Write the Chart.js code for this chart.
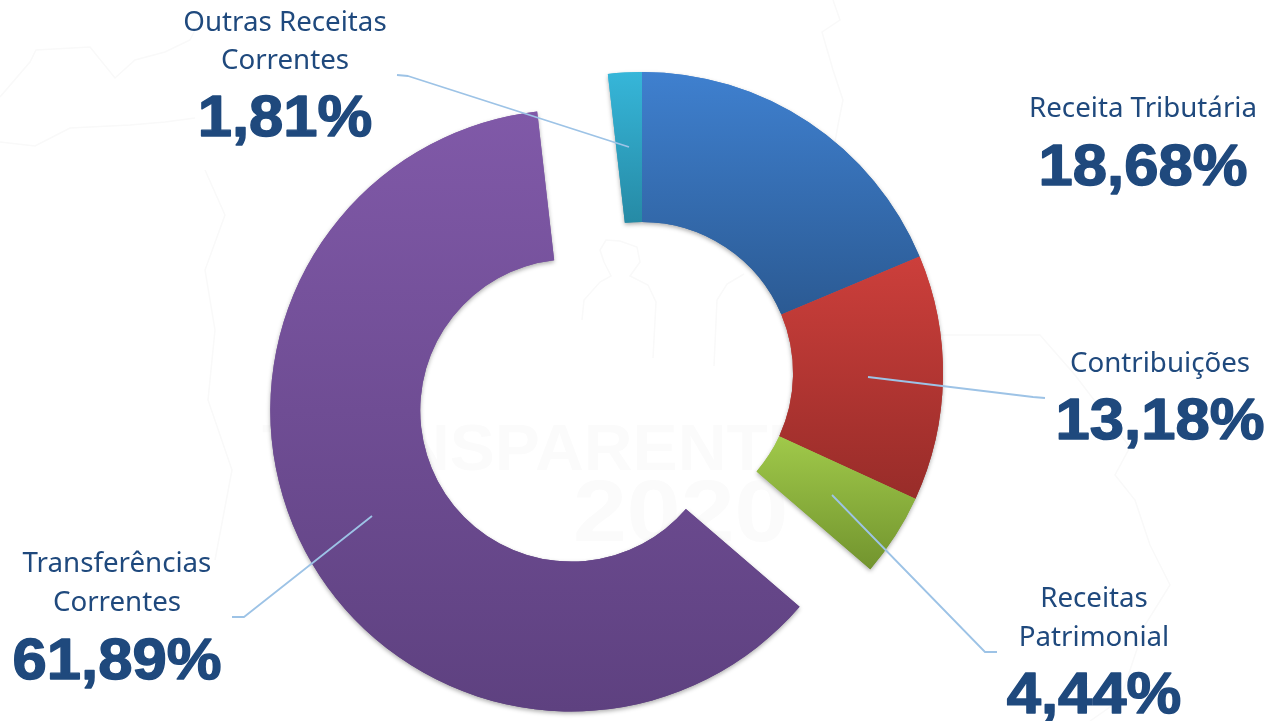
<!DOCTYPE html>
<html lang="pt">
<head>
<meta charset="utf-8">
<title>Receitas</title>
<style>
html,body{margin:0;padding:0;background:#fff;overflow:hidden}
#wrap{position:absolute;left:0;top:0;width:1268px;height:721px}
canvas{display:block}
</style>
<script src="https://cdn.jsdelivr.net/npm/chart.js@4"></script>
</head>
<body>
<div id="wrap"><canvas id="c" width="1268" height="721"></canvas></div>
<script>
const categories = ['Receita Tributária','Contribuições','Receitas Patrimonial','Transferências Correntes','Outras Receitas Correntes'];
const values = [18.68,13.18,4.44,61.89,1.81];
const percentLabels = ['18,68%','13,18%','4,44%','61,89%','1,81%'];

const gradientTop = ['#3F80CF','#CC3F3B','#A0C94A','#8059A8','#36B6D9'];
const gradientBottom = ['#2B5A93','#982C29','#72942E','#5E4180','#268AA5'];
const explode = [0,0,0,80,0];
const CUT = 0.502;

const callouts = [
  {lines:['Receita Tributária'],lineY:[117],x:1143,pctY:185,leader:null},
  {lines:['Contribuições'],lineY:[372],x:1160,pctY:439,leader:[[868,377],[1033,397],[1045,398]]},
  {lines:['Receitas','Patrimonial'],lineY:[607,646],x:1094,pctY:713,leader:[[832,495],[985,652],[997,652]]},
  {lines:['Transferências','Correntes'],lineY:[572,611],x:117,pctY:679,leader:[[372,516],[244,617],[232,617]]},
  {lines:['Outras Receitas','Correntes'],lineY:[31,69],x:285,pctY:136,leader:[[629,147],[408,76],[397,75]]}
];

function sliceGeom(chart,i){
  const a=chart.chartArea, total=values.reduce((s,v)=>s+v,0);
  const cy=(a.top+a.bottom)/2, R=Math.min(a.right-a.left,a.bottom-a.top)/2;
  let st=-Math.PI/2;
  for(let k=0;k<i;k++) st+=values[k]/total*2*Math.PI;
  const en=st+values[i]/total*2*Math.PI, mid=(st+en)/2;
  const oy=cy+Math.sin(mid)*explode[i];
  let minY=1e9,maxY=-1e9;
  for(let t=0;t<=60;t++){
    const an=st+(en-st)*t/60;
    [R,R*CUT].forEach(r=>{const y=oy+Math.sin(an)*r;minY=Math.min(minY,y);maxY=Math.max(maxY,y);});
  }
  return {minY,maxY};
}

function fillFor(ctx){
  const chart=ctx.chart,i=ctx.dataIndex;
  if(!chart.chartArea||i===undefined) return gradientTop[i||0];
  const g=sliceGeom(chart,i);
  const lg=chart.ctx.createLinearGradient(0,g.minY,0,g.maxY);
  lg.addColorStop(0,gradientTop[i]);
  lg.addColorStop(1,gradientBottom[i]);
  return lg;
}

// moves a slice out along its bisector
const explodePlugin={id:'explodePlugin',afterDatasetsUpdate(chart){
  chart.getDatasetMeta(0).data.forEach((arc,i)=>{
    const mid=(arc.startAngle+arc.endAngle)/2;
    arc.x+=Math.cos(mid)*explode[i];
    arc.y+=Math.sin(mid)*explode[i];
  });
}};

// very faint backdrop
const watermarkPaths=[
 [[0,97],[30,62],[36,50],[90,47],[115,78],[135,60],[165,52],[190,40],[205,10]],
 [[0,142],[35,146],[70,128],[130,125],[165,122],[195,118]],
 [[205,170],[225,215],[205,270],[215,330],[208,400],[232,470],[215,560]],
 [[833,0],[840,20],[822,32],[833,70],[843,100],[838,125],[830,170]],
 [[940,335],[1040,335],[1075,375],[1130,447],[1115,475],[1135,500],[1150,545],[1170,585],[1145,625],[1120,700],[1090,721]],
 [[582,320],[584,300],[600,282],[611,276],[604,262],[600,250],[606,240],[620,241],[637,247],[640,262],[630,276],[648,285],[656,302],[653,358]],
 [[714,366],[717,300],[727,284],[744,274]]
];
const watermarkPlugin={id:'watermarkPlugin',beforeDatasetsDraw(chart){
  const c=chart.ctx;c.save();
  c.strokeStyle='#F9F9F9';c.lineWidth=1.5;
  watermarkPaths.forEach(p=>{c.beginPath();p.forEach((q,i)=>i?c.lineTo(q[0],q[1]):c.moveTo(q[0],q[1]));c.stroke();});
  c.fillStyle='#FBFBFB';c.textAlign='left';
  c.save();c.translate(262,470);c.scale(1.04,1);
  c.font='bold 65px "Liberation Sans"';
  c.fillText('TRANSPARENTE',0,0);
  c.restore();
  c.save();c.translate(573,541);c.scale(1.1,1);
  c.font='bold 88px "Liberation Sans"';
  c.fillText('2020',0,0);
  c.restore();
  c.restore();
}};

// soft shadow pass under all the slices, so it never falls on a neighbour
const shadowPlugin={id:'shadowPlugin',beforeDatasetDraw(chart){
  const c=chart.ctx;c.save();
  c.shadowColor='rgba(0,0,0,0.32)';c.shadowBlur=4;c.shadowOffsetX=0;c.shadowOffsetY=2;
  chart.getDatasetMeta(0).data.forEach(arc=>arc.draw(c));
  c.restore();
}};

// callout text and leader lines
const calloutPlugin={id:'calloutPlugin',afterDatasetsDraw(chart){
  const c=chart.ctx;
  c.save();
  c.lineWidth=1.8;c.strokeStyle='#9DC3E6';c.lineJoin='round';
  callouts.forEach(o=>{
    if(!o.leader)return;
    c.beginPath();o.leader.forEach((q,i)=>i?c.lineTo(q[0],q[1]):c.moveTo(q[0],q[1]));c.stroke();
  });
  c.textAlign='center';c.textBaseline='alphabetic';
  callouts.forEach((o,i)=>{
    c.fillStyle='#1F497D';
    c.font='27.7px "Noto Sans"';
    o.lines.forEach((t,k)=>c.fillText(t,o.x,o.lineY[k]));
    c.save();
    c.translate(o.x,o.pctY);c.scale(1.09,1);
    c.font='bold 56.5px "Liberation Sans"';
    c.strokeStyle='#1F497D';c.lineWidth=1.4;c.lineJoin='round';
    c.fillText(percentLabels[i],0,0);
    c.strokeText(percentLabels[i],0,0);
    c.restore();
  });
  c.restore();
}};

new Chart(document.getElementById('c'),{
  type:'doughnut',
  data:{labels:categories,datasets:[{data:values,backgroundColor:fillFor,borderWidth:0}]},
  options:{
    responsive:false,animation:false,events:[],
    cutout:(CUT*100)+'%',
    layout:{padding:{top:72,bottom:47,left:16,right:0}},
    plugins:{legend:{display:false},tooltip:{enabled:false},title:{display:false}}
  },
  plugins:[explodePlugin,watermarkPlugin,shadowPlugin,calloutPlugin]
});
</script>
</body>
</html>
